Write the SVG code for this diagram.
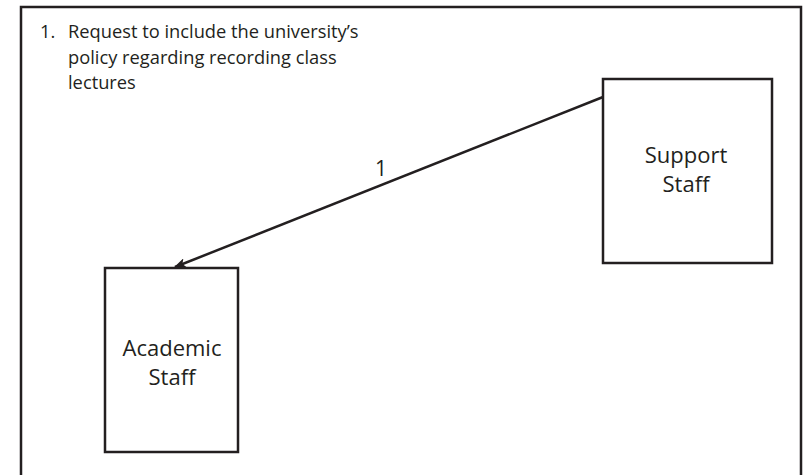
<svg xmlns="http://www.w3.org/2000/svg" width="803" height="475" viewBox="0 0 803 475">
<defs>
<style>
.box{fill:#fff;stroke:#231f20;stroke-width:2.5}
.t{font-family:"Open Sans","Liberation Sans",sans-serif;fill:#231f20}
.n{font-size:22px;text-anchor:middle}
.c{stroke:#231f20;stroke-width:2.5;fill:none}
</style>
<marker id="ah" markerWidth="12" markerHeight="10" refX="11" refY="5" orient="auto" markerUnits="userSpaceOnUse">
<path d="M0,0 L12,5 L0,10 L3,5 Z" fill="#231f20"/>
</marker>
</defs>
<rect width="803" height="475" fill="#fff"/>
<path d="M21,480 V7 H801 V480" fill="none" stroke="#231f20" stroke-width="2.5"/>
<g id="legend" class="t" font-size="18.3">
<text x="40" y="38">1.</text>
<text x="68" y="38">Request to include the university’s</text>
<text x="68" y="64">policy regarding recording class</text>
<text x="68" y="89">lectures</text>
</g>
<g id="connectors">
<line class="c" x1="603" y1="97" x2="175" y2="267" marker-end="url(#ah)"/>
<text class="t" x="381" y="176" font-size="21" text-anchor="middle">1</text>
</g>
<g id="support-staff">
<rect class="box" x="603" y="79" width="169" height="184"/>
<text class="t n" x="686" y="163">Support</text>
<text class="t n" x="686" y="192">Staff</text>
</g>
<g id="academic-staff">
<rect class="box" x="105" y="268" width="133" height="184"/>
<text class="t n" x="172" y="356">Academic</text>
<text class="t n" x="172" y="385">Staff</text>
</g>
</svg>
